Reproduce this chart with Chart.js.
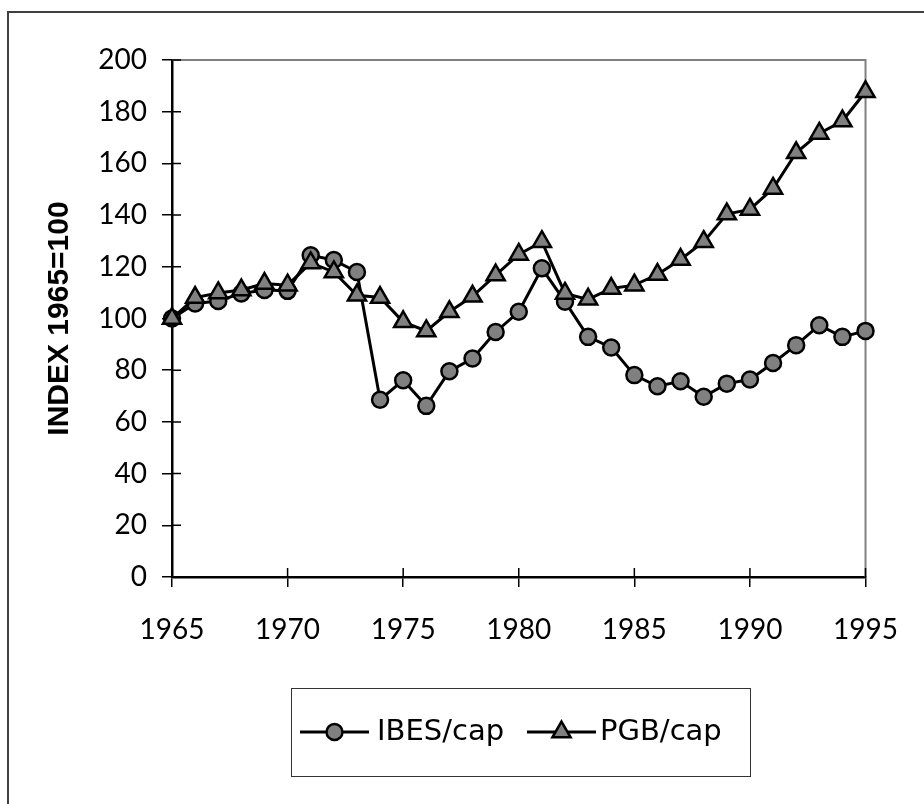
<!DOCTYPE html>
<html>
<head>
<meta charset="utf-8">
<script src="https://cdn.jsdelivr.net/npm/chart.js@4.4.0/dist/chart.umd.min.js"></script>
<style>
  html, body { margin: 0; padding: 0; background: #fff; overflow: hidden; }
  #frame { position: absolute; left: 7px; top: 11px; width: 2000px; height: 2000px; border: 2px solid #404040; }
  #wrap { position: absolute; left: 0; top: 0; width: 924px; height: 804px; }
</style>
</head>
<body>
<div id="frame"></div>
<div id="wrap"><canvas id="indexChart" width="924" height="804"></canvas></div>
<script>
const years = [1965, 1966, 1967, 1968, 1969, 1970, 1971, 1972, 1973, 1974, 1975,
  1976, 1977, 1978, 1979, 1980, 1981, 1982, 1983, 1984, 1985,
  1986, 1987, 1988, 1989, 1990, 1991, 1992, 1993, 1994, 1995];
const ibesCap = [100, 105.8, 106.8, 109.7, 111, 110.7, 124.5, 122.6, 118, 68.6, 76.1,
  66.2, 79.6, 84.5, 94.8, 102.6, 119.4, 106.5, 92.9, 88.8, 78.1,
  73.8, 75.7, 69.7, 74.8, 76.4, 82.8, 89.7, 97.4, 92.9, 95.2];
const pgbCap = [100, 108.1, 109.9, 111, 113.5, 112.9, 121.5, 118, 109, 108.1, 98.7,
  95.2, 102.6, 108.6, 116.8, 124.8, 129.7, 109.7, 107.4, 111.6, 112.9,
  117, 122.8, 129.7, 140.4, 142.2, 150.3, 164.1, 171.6, 176.4, 187.7];
const seriesNames = ['IBES/cap', 'PGB/cap'];
const yTitle = 'INDEX 1965=100';

const tickFont = { family: 'Lato', size: 28 };
const grey = '#808080';

function toPoints(vals) {
  return years.map((y, i) => ({ x: y, y: vals[i] }));
}

// plot frame: grey top/right edges and the inner half of the cross ticks
const framePlugin = {
  id: 'frame',
  beforeDatasetsDraw(chart) {
    const { ctx, chartArea: a, scales } = chart;
    ctx.save();
    ctx.strokeStyle = grey;
    ctx.lineWidth = 2;
    ctx.beginPath();
    ctx.moveTo(a.left, a.top);
    ctx.lineTo(a.right, a.top);
    ctx.lineTo(a.right, a.bottom);
    ctx.stroke();
    ctx.strokeStyle = '#000';
    ctx.lineWidth = 1.5;
    ctx.beginPath();
    scales.y.ticks.forEach(t => {
      const py = scales.y.getPixelForValue(t.value);
      ctx.moveTo(a.left, py);
      ctx.lineTo(a.left + 9, py);
    });
    scales.x.ticks.forEach(t => {
      const px = scales.x.getPixelForValue(t.value);
      ctx.moveTo(px, a.bottom);
      ctx.lineTo(px, a.bottom - 9);
    });
    ctx.stroke();
    ctx.restore();
  }
};

// legend box under the plot, line + marker samples
const legendPlugin = {
  id: 'boxLegend',
  afterDraw(chart) {
    const ctx = chart.ctx;
    const box = { x: 291, y: 688, w: 459, h: 88 };
    const cy = box.y + 44;
    ctx.save();
    ctx.strokeStyle = '#333';
    ctx.lineWidth = 1;
    ctx.strokeRect(box.x + 0.5, box.y + 0.5, box.w, box.h);
    const items = [{ x0: 300, shape: 'circle', tx: 377 }, { x0: 527, shape: 'triangle', tx: 600 }];
    items.forEach((it, i) => {
      const ds = chart.data.datasets[i];
      ctx.strokeStyle = '#000';
      ctx.lineWidth = 3;
      ctx.beginPath();
      ctx.moveTo(it.x0, cy);
      ctx.lineTo(it.x0 + 69, cy);
      ctx.stroke();
      const mx = it.x0 + 34.5;
      ctx.fillStyle = grey;
      ctx.lineWidth = 2.5;
      ctx.beginPath();
      if (it.shape === 'circle') {
        ctx.arc(mx, cy, 8, 0, Math.PI * 2);
      } else {
        const r = 10.5;
        ctx.moveTo(mx, cy - r);
        ctx.lineTo(mx + r * 0.866, cy + r / 2);
        ctx.lineTo(mx - r * 0.866, cy + r / 2);
        ctx.closePath();
      }
      ctx.fill();
      ctx.stroke();
      ctx.fillStyle = '#000';
      ctx.font = '29px "DejaVu Sans"';
      ctx.textBaseline = 'middle';
      ctx.textAlign = 'left';
      ctx.fillText(ds.label, it.tx, cy);
    });
    ctx.restore();
  }
};

const ctx = document.getElementById('indexChart').getContext('2d');
const indexChart = new Chart(ctx, {
  type: 'line',
  data: {
    datasets: [{
      label: seriesNames[0],
      data: toPoints(ibesCap),
      borderColor: '#000',
      borderWidth: 3,
      pointStyle: 'circle',
      pointRadius: 8,
      pointBorderWidth: 2.5,
      pointBackgroundColor: grey,
      pointBorderColor: '#000',
      clip: false,
      order: 2
    }, {
      label: seriesNames[1],
      data: toPoints(pgbCap),
      borderColor: '#000',
      borderWidth: 3,
      pointStyle: 'triangle',
      pointRadius: 10.5,
      pointBorderWidth: 2.5,
      pointBackgroundColor: grey,
      pointBorderColor: '#000',
      clip: false,
      order: 1
    }]
  },
  options: {
    responsive: false,
    animation: false,
    layout: { padding: { top: 60, right: 54, left: 0, bottom: 0 } },
    plugins: { legend: { display: false }, tooltip: { enabled: false } },
    scales: {
      x: {
        type: 'linear',
        min: 1965,
        max: 1995,
        afterFit(scale) { scale.height = 227; },
        ticks: { stepSize: 5, color: '#000', font: tickFont, padding: 26, maxRotation: 0,
                 callback: v => String(v) },
        grid: { drawOnChartArea: false, drawTicks: true, tickLength: 10, color: '#000', lineWidth: 1.5 },
        border: { color: '#000', width: 2.5 }
      },
      y: {
        min: 0,
        max: 200,
        afterFit(scale) { scale.width = 172; },
        ticks: { stepSize: 20, color: '#000', font: tickFont, padding: 15 },
        grid: { drawOnChartArea: false, drawTicks: true, tickLength: 10, color: '#000', lineWidth: 1.5 },
        border: { color: '#000', width: 2.5 },
        title: {
          display: true,
          text: yTitle,
          color: '#000',
          font: { family: 'Liberation Sans', size: 30, weight: 'bold' },
          padding: { top: 42, bottom: 0 }
        }
      }
    }
  },
  plugins: [framePlugin, legendPlugin]
});
</script>
</body>
</html>
